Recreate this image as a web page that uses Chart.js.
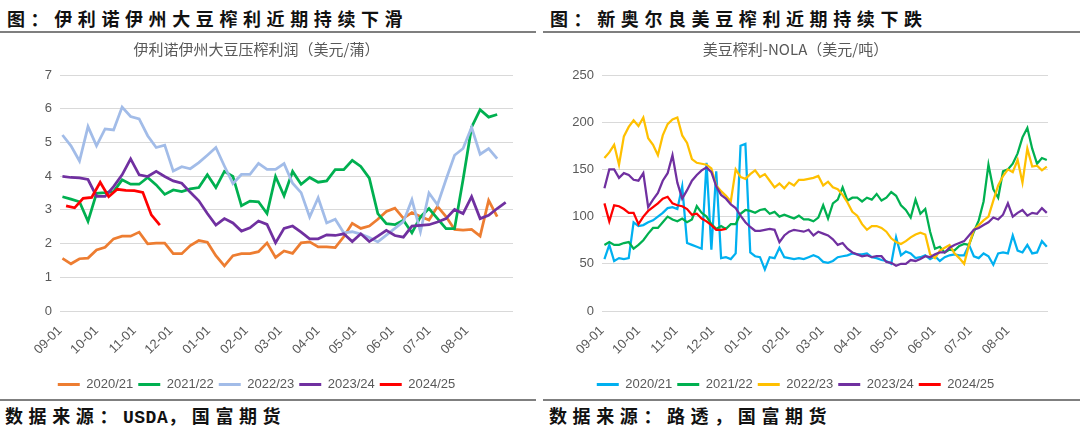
<!DOCTYPE html>
<html>
<head>
<meta charset="utf-8">
<script src="https://cdn.jsdelivr.net/npm/chart.js@4.4.1/dist/chart.umd.min.js"></script>
<style>
  body { margin: 0; width: 1080px; height: 431px; background: #fff; position: relative; overflow: hidden;
         font-family: "Noto Sans CJK SC", sans-serif; }
  .head, .foot { position: absolute; font-size: 18px; font-weight: bold; letter-spacing: 5.6px; color: #111; line-height: 26px; white-space: nowrap; }
  .head { top: 5px; }
  .foot { top: 402px; }
  .mono { font-family: "Liberation Mono", monospace; letter-spacing: 0.5px; }
  .rule { position: absolute; height: 2px; background: #7f7f7f; }
  canvas { position: absolute; }
</style>
</head>
<body>
<div class="head" style="left:7px">图：伊利诺伊州大豆榨利近期持续下滑</div>
<div class="head" style="left:550px">图：新奥尔良美豆榨利近期持续下跌</div>
<div class="rule" style="left:0;width:536px;top:31px"></div>
<div class="rule" style="left:543px;width:537px;top:31px"></div>
<div class="rule" style="left:0;width:536px;top:399px"></div>
<div class="rule" style="left:543px;width:537px;top:399px"></div>
<div class="foot" style="left:5px">数据来源：<span class="mono">USDA</span>，国富期货</div>
<div class="foot" style="left:549px">数据来源：路透，国富期货</div>

<canvas id="left" width="520" height="370" style="left:0;top:36px"></canvas>
<canvas id="right" width="520" height="370" style="left:543px;top:36px"></canvas>

<script>
// marketing year starts 09-01, x = days since 09-01
const monthTicks = [0, 30, 61, 91, 122, 153, 181, 212, 242, 273, 303, 334];
const monthLabels = ['09-01', '10-01', '11-01', '12-01', '01-01', '02-01',
                     '03-01', '04-01', '05-01', '06-01', '07-01', '08-01'];
const seasons = ['2020/21', '2021/22', '2022/23', '2023/24', '2024/25'];

// Illinois crush margin, weekly ($/bu)
const ilStart = [2, 2, 2, 2, 5];
const ilStep = 7;
const il2020 = [1.56, 1.40, 1.55, 1.57, 1.81, 1.89, 2.14, 2.22, 2.22, 2.34, 1.99, 2.01, 2.01, 1.70, 1.70, 1.94, 2.09, 2.04,
  1.64, 1.34, 1.64, 1.70, 1.70, 1.76, 2.02, 1.59, 1.78, 1.71, 2.02, 2.05, 1.90, 1.90, 1.88, 2.20, 2.60, 2.45, 2.52, 2.72,
  2.95, 3.05, 2.75, 2.92, 2.80, 2.70, 3.10, 2.80, 2.42, 2.40, 2.42, 2.22, 3.28, 2.80];
const il2021 = [3.39, 3.32, 3.24, 2.66, 3.49, 3.51, 3.54, 3.89, 3.76, 3.76, 3.96, 3.74, 3.46, 3.59, 3.54, 3.62, 3.66, 4.04,
  3.66, 4.14, 3.99, 3.12, 3.26, 3.24, 2.89, 3.99, 3.42, 4.14, 3.76, 3.96, 3.82, 3.86, 4.19, 4.19, 4.47, 4.29, 3.94, 2.89,
  2.59, 2.56, 2.69, 2.32, 2.79, 3.04, 2.74, 2.44, 2.44, 3.90, 5.45, 5.97, 5.75, 5.83];
const il2022 = [5.22, 4.90, 4.45, 5.47, 4.90, 5.40, 5.37, 6.05, 5.77, 5.70, 5.20, 4.85, 4.92, 4.15, 4.28, 4.22, 4.40, 4.62,
  4.85, 4.30, 3.78, 4.05, 4.05, 4.38, 4.20, 4.20, 4.37, 3.79, 3.51, 2.79, 3.36, 2.61, 2.72, 2.32, 2.35, 2.28, 2.18, 2.05,
  2.25, 2.45, 2.65, 3.30, 2.35, 3.50, 3.15, 3.90, 4.62, 4.82, 5.45, 4.65, 4.82, 4.52];
const il2023 = [3.99, 3.96, 3.95, 3.90, 3.40, 3.40, 3.69, 4.04, 4.51, 4.04, 3.99, 4.14, 3.99, 3.86, 3.79, 3.52, 3.27, 2.89,
  2.55, 2.74, 2.61, 2.37, 2.47, 2.67, 2.57, 2.02, 2.45, 2.52, 2.34, 2.14, 2.14, 2.26, 2.24, 2.29, 2.06, 2.29, 2.06, 2.22,
  2.39, 2.24, 2.19, 2.52, 2.54, 2.56, 2.64, 2.74, 3.01, 2.89, 3.39, 2.74, 2.84, 3.04, 3.22];
const il2024 = [3.12, 3.06, 3.34, 3.37, 3.82, 3.39, 3.61, 3.58, 3.57, 3.52, 2.85, 2.55];

// NOLA crush margin, sampled every 4 days ($/t)
const nolaStart = 2;
const nolaStep = 4;
const nola2020 = [55, 70, 53, 56, 55, 56, 94, 90, 91, 94, 96, 100, 104, 109, 110, 108, 132, 72, 70, 68,
  66, 157, 65, 148, 56, 57, 55, 61, 175, 177, 62, 58, 57, 44, 57, 56, 67, 57, 56, 55,
  56, 55, 57, 59, 57, 52, 51, 53, 57, 58, 59, 61, 60, 60, 61, 57, 56, 54, 53, 50,
  78, 59, 63, 61, 56, 57, 59, 55, 58, 53, 57, 59, 60, 59, 59, 70, 58, 56, 61, 58,
  49, 61, 62, 61, 80, 64, 62, 70, 61, 62, 74, 68];
const nola2021 = [70, 73, 70, 70, 72, 73, 66, 70, 75, 82, 88, 88, 94, 100, 97, 95, 98, 94, 97, 111,
  104, 100, 92, 87, 90, 87, 92, 92, 103, 107, 106, 104, 107, 108, 103, 105, 100, 102, 100, 98,
  101, 97, 97, 95, 99, 112, 98, 114, 118, 131, 117, 120, 120, 116, 120, 118, 124, 117, 120, 126,
  122, 112, 107, 99, 118, 103, 108, 84, 66, 68, 62, 65, 64, 69, 71, 70, 84, 96, 116, 155,
  129, 120, 148, 150, 156, 167, 184, 194, 172, 156, 162, 160];
const nola2022 = [162, 168, 176, 155, 185, 195, 202, 196, 205, 183, 176, 165, 186, 198, 203, 205, 186, 178, 161, 157,
  156, 155, 151, 133, 127, 122, 116, 150, 142, 140, 145, 149, 142, 145, 138, 131, 135, 130, 136, 133,
  139, 139, 140, 141, 143, 133, 137, 131, 129, 123, 115, 105, 101, 92, 86, 90, 90, 88, 84, 77,
  73, 71, 74, 78, 81, 83, 81, 60, 56, 64, 67, 70, 61, 56, 50, 70, 86, 91, 96, 100,
  117, 133, 143, 150, 147, 160, 136, 172, 153, 154, 149, 153];
const nola2023 = [130, 150, 150, 141, 146, 144, 139, 138, 146, 110, 118, 125, 138, 146, 165, 136, 119, 128, 138, 144,
  149, 152, 147, 132, 123, 119, 113, 109, 101, 94, 89, 85, 85, 86, 87, 86, 73, 80, 84, 86,
  85, 84, 86, 80, 84, 82, 80, 76, 70, 72, 66, 62, 60, 58, 59, 57, 58, 58, 52, 51,
  48, 50, 50, 54, 53, 55, 58, 57, 60, 62, 62, 67, 70, 72, 74, 80, 86, 88, 91, 94,
  99, 97, 102, 114, 100, 104, 107, 101, 104, 103, 109, 104];
const nola2024 = [114, 95, 112, 111, 108, 104, 104, 92, 100, 106, 110, 114, 119, 121, 114, 112, 111, 108, 102, 103,
  98, 95, 91, 86, 86, 87];

const ilColors = ['#ED7D31', '#00B050', '#A2BCE8', '#7030A0', '#FF0000'];
const nolaColors = ['#00B0F0', '#00B050', '#FFC000', '#7030A0', '#FF0000'];

const txt = '#595959';
const latin = '"Liberation Sans", Arial, "Noto Sans CJK SC", sans-serif';

function toPoints(values, start, step) {
  return values.map((v, i) => ({ x: start + i * step, y: v }));
}

function makeChart(id, cfg) {
  const datasets = cfg.series.map((vals, i) => ({
    label: seasons[i],
    data: toPoints(vals, cfg.starts[i], cfg.step),
    borderColor: cfg.colors[i],
    backgroundColor: cfg.colors[i],
    borderWidth: cfg.lineWidth,
    pointRadius: 0,
    tension: 0,
    order: 5 - i
  }));

  return new Chart(document.getElementById(id), {
    type: 'line',
    data: { datasets: datasets },
    options: {
      responsive: false,
      animation: false,
      layout: { padding: { left: 0, right: cfg.padRight, top: 0, bottom: 5 } },
      plugins: {
        tooltip: { enabled: false },
        title: {
          display: true,
          text: cfg.title,
          color: txt,
          font: { family: '"Noto Sans CJK SC", sans-serif', size: 15, weight: 'normal' },
          padding: { top: 4, bottom: 17 }
        },
        legend: {
          position: 'bottom',
          labels: {
            boxWidth: 22,
            boxHeight: 3,
            padding: 5,
            color: txt,
            font: { family: latin, size: 13 },
            sort: (a, b) => a.datasetIndex - b.datasetIndex,
            generateLabels: chart => {
              const items = Chart.defaults.plugins.legend.labels.generateLabels(chart);
              items.forEach(it => { it.lineWidth = 0; it.fillStyle = it.strokeStyle; });
              return items;
            }
          }
        }
      },
      scales: {
        x: {
          type: 'linear',
          min: 0,
          max: cfg.xMax,
          afterBuildTicks: s => { s.ticks = monthTicks.map(v => ({ value: v })); },
          afterFit: s => { s.height = 62; },
          grid: { display: false },
          border: { display: false },
          ticks: {
            autoSkip: false,
            minRotation: 45,
            maxRotation: 45,
            padding: 4,
            color: txt,
            font: { family: latin, size: 13 },
            callback: (v, i) => monthLabels[i]
          }
        },
        y: {
          min: 0,
          max: cfg.yMax,
          afterFit: s => { s.width = cfg.yWidth; },
          border: { display: false },
          grid: { color: '#D9D9D9', lineWidth: 1, drawTicks: false },
          ticks: {
            stepSize: cfg.yStep,
            padding: 8,
            color: txt,
            font: { family: latin, size: 13 }
          }
        }
      }
    }
  });
}

makeChart('left', {
  title: '伊利诺伊州大豆压榨利润（美元/蒲）',
  series: [il2020, il2021, il2022, il2023, il2024],
  starts: ilStart,
  step: ilStep,
  colors: ilColors,
  lineWidth: 2.75,
  xMax: 372,
  yMax: 7,
  yStep: 1,
  yWidth: 60,
  padRight: 7
});

makeChart('right', {
  title: '美豆榨利-NOLA（美元/吨）',
  series: [nola2020, nola2021, nola2022, nola2023, nola2024],
  starts: [nolaStart, nolaStart, nolaStart, nolaStart, nolaStart],
  step: nolaStep,
  colors: nolaColors,
  lineWidth: 2.25,
  xMax: 367,
  yMax: 250,
  yStep: 50,
  yWidth: 59,
  padRight: 15
});
</script>
</body>
</html>
